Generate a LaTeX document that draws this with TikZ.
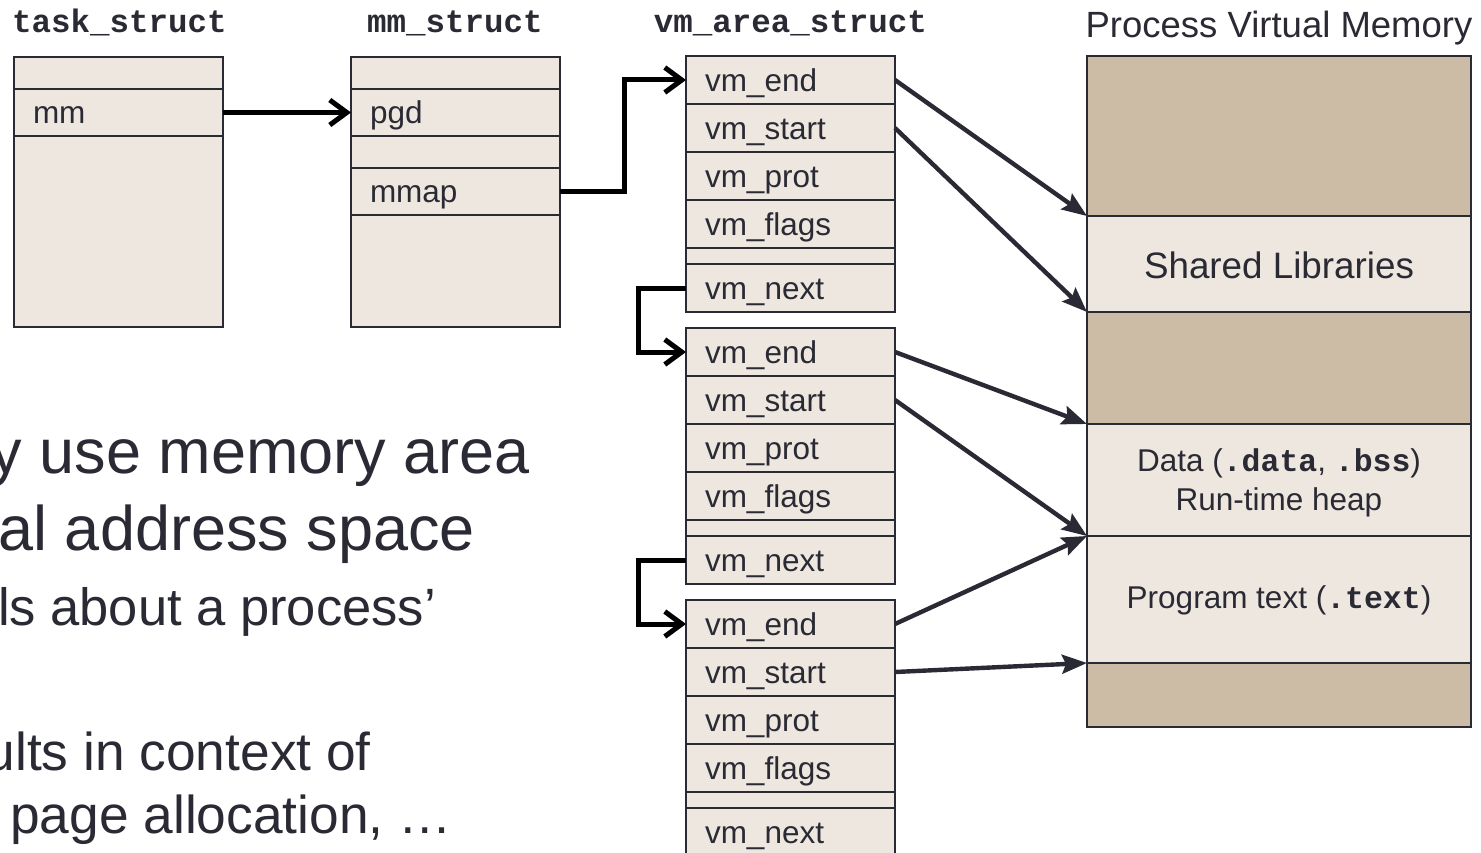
\documentclass[tikz,border=0pt]{standalone}
\usepackage{fontspec}
\setmainfont{Liberation Sans}
\setmonofont{Liberation Mono}
\usetikzlibrary{arrows.meta}
\definecolor{ink}{RGB}{42,42,52}
\definecolor{lightf}{RGB}{238,231,224}
\definecolor{brownf}{RGB}{205,188,165}
\newcommand{\fsz}[1]{\fontsize{#1}{#1}\selectfont}
\begin{document}
\begin{tikzpicture}[x=1pt,y=-1pt,
  fld/.style={draw=ink, fill=lightf, line width=2pt, anchor=north west, outer sep=0pt,
    inner xsep=19pt, inner ysep=0pt, text width=171pt, align=left, minimum height=#1,
    font=\fsz{31.5}, text=ink, text height=22.5pt, text depth=0pt},
  gap/.style={fld={#1}, text height=0pt},
  band/.style={draw=ink, line width=2pt, anchor=north west, outer sep=0pt, inner sep=0pt,
    minimum width=384pt, minimum height=#1},
  hdr/.style={font=\ttfamily\bfseries\fsz{32.5}, text=ink, anchor=base, inner sep=0pt},
  lbl/.style={font=\fsz{31.5}, text=ink, anchor=base, inner sep=0pt},
  lt/.style={font=\fsz{#1}, text=ink, anchor=base east, inner sep=0pt},
  conn/.style={line width=5pt, draw=black, -{Straight Barb[length=17pt,width=25pt]}},
  ptr/.style={line width=4.4pt, draw=ink, -{Stealth[length=25pt,width=19pt,inset=4pt]}}
]
\useasboundingbox[fill=white] (0,0) rectangle (1481,853);

% left slide text (cut off)
\node[lt=63] (t1) at (530,473) {y use memory area};
\node[lt=63] (t2) at (475,550) {al address space};
\node[lt=52.5] (t3) at (436,625) {ls about a process’};
\node[lt=53.3] (t4) at (371,770) {ults in context of};
\node[lt=53.3] (t5) at (452,833) {page allocation, …};

% task_struct
\node[hdr] (tsh) at (119.5,33) {task\_struct};
\node[fld=32] (ts0) at (14,57) {};
\node[fld=47] (tsmm) at (14,89) {mm};
\node[fld=191] (ts2) at (14,136) {};

% mm_struct
\node[hdr] (msh) at (455,33) {mm\_struct};
\node[fld=32] (ms0) at (351,57) {};
\node[fld=47] (mspgd) at (351,89) {pgd};
\node[fld=32] (ms2) at (351,136) {};
\node[fld=47] (msmmap) at (351,168) {mmap};
\node[fld=112] (ms4) at (351,215) {};

% vm_area_struct list
\node[hdr] (vmh) at (790.5,33) {vm\_area\_struct};
\foreach \i/\y in {1/56,2/328,3/600} {
  \node[fld=48] (vmend\i) at (686,\y) {vm\_end};
  \node[fld=48] (vmstart\i) at (686,\y+48) {vm\_start};
  \node[fld=48] (vmprot\i) at (686,\y+96) {vm\_prot};
  \node[fld=48] (vmflags\i) at (686,\y+144) {vm\_flags};
  \node[gap=16] (vmgap\i) at (686,\y+192) {};
  \node[fld=48] (vmnext\i) at (686,\y+208) {vm\_next};
}

% process virtual memory
\node[font=\fsz{36.5}, text=ink, anchor=base, inner sep=0pt] (pvmh) at (1279,38) {Process Virtual Memory};
\node[band=160, fill=brownf] (b1) at (1087,56) {};
\node[band=96, fill=lightf] (b2) at (1087,216) {};
\node[band=112, fill=brownf] (b3) at (1087,312) {};
\node[band=112, fill=lightf] (b4) at (1087,424) {};
\node[band=127, fill=lightf] (b5) at (1087,536) {};
\node[band=64, fill=brownf] (b6) at (1087,663) {};
\node[lbl, font=\fsz{36.8}] (shl) at (1279,278) {Shared Libraries};
\node[lbl] (dl) at (1279,471) {Data (\texttt{\bfseries .data}, \texttt{\bfseries .bss})};
\node[lbl] (hl) at (1279,510) {Run-time heap};
\node[lbl] (pl) at (1279,608.5) {Program text (\texttt{\bfseries .text})};

% black connectors
\draw[conn] (tsmm.east) -- (mspgd.west);
\draw[conn] (msmmap.east) -- ([xshift=64pt]msmmap.east) |- (vmend1.west);
\draw[conn] (vmnext1.west) -- ([xshift=-48pt]vmnext1.west) |- (vmend2.west);
\draw[conn] (vmnext2.west) -- ([xshift=-48pt]vmnext2.west) |- (vmend3.west);

% pointers into address space
\draw[ptr] (vmend1.east) -- (b1.south west);
\draw[ptr] (vmstart1.east) -- (b2.south west);
\draw[ptr] (vmend2.east) -- (b3.south west);
\draw[ptr] (vmstart2.east) -- (b4.south west);
\draw[ptr] (vmend3.east) -- (b4.south west);
\draw[ptr] (vmstart3.east) -- (b5.south west);
\end{tikzpicture}
\end{document}
